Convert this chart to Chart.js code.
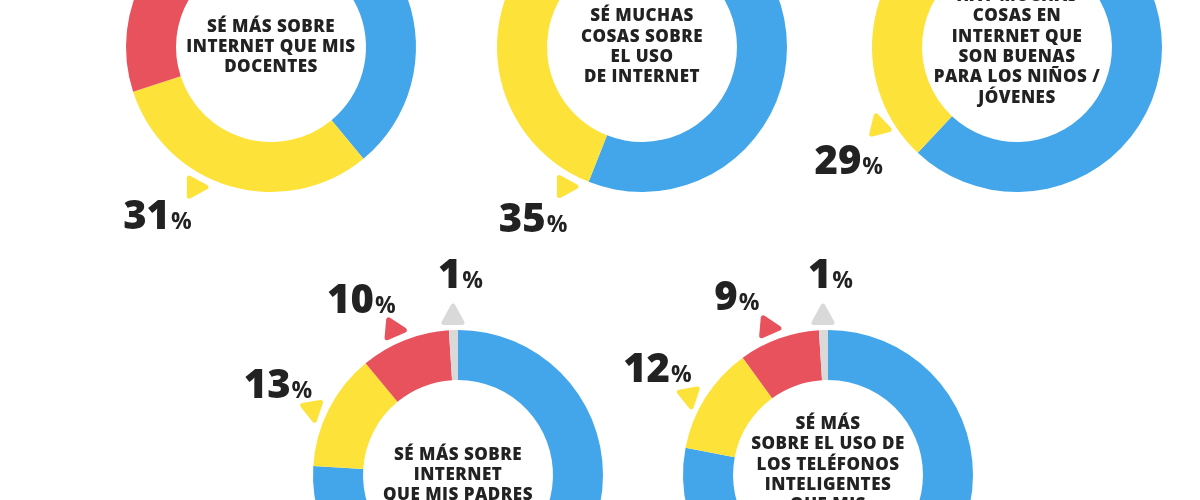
<!DOCTYPE html>
<html lang="es">
<head>
<meta charset="utf-8">
<title>Donas internet</title>
<script src="https://cdn.jsdelivr.net/npm/chart.js@4.4.1/dist/chart.umd.min.js"></script>
<style>
    html, body { margin: 0; padding: 0; background: #fff; }
    #lienzo { position: relative; width: 1200px; height: 500px; overflow: hidden; }
    #lienzo canvas { position: absolute; }
</style>
</head>
<body>
<div id="lienzo"></div>
<script>
// textos del centro de cada dona
const preguntas = [
    ['SÉ MÁS SOBRE', 'INTERNET QUE MIS', 'DOCENTES'],
    ['SÉ MUCHAS', 'COSAS SOBRE', 'EL USO', 'DE INTERNET'],
    ['HAY MUCHAS', 'COSAS EN', 'INTERNET QUE', 'SON BUENAS', 'PARA LOS NIÑOS /', 'JÓVENES'],
    ['SÉ MÁS SOBRE', 'INTERNET', 'QUE MIS PADRES'],
    ['SÉ MÁS', 'SOBRE EL USO DE', 'LOS TELÉFONOS', 'INTELIGENTES', 'QUE MIS', 'PADRES']
];
// porcentajes por segmento (orden horario desde arriba)
const serieAzul = [39, 56, 62, 76, 78];
const serieAmarilla = [31, 35, 29, 13, 12];
const serieRoja = [27, 7, 7, 10, 9];
const serieGris = [3, 2, 2, 1, 1];

const colores = ['#43a6ea', '#fde23a', '#e8525c', '#d9d9d9'];
const TAM = 520;
const RADIO = 145;
const FUENTE = '"Open Sans"';

// ubicación de cada dona y de sus etiquetas (desfase en grados respecto al centro del arco)
const etiquetasAbajo = [
    { i: 1, dTri: -3, dTxt: 0, giro: 170 },
    { i: 2, dTri: -2, dTxt: -7, giro: 95 },
    { i: 3, dTri: 0, dTxt: 2.5, giro: 0 }
];
const disposicion = [
    { x: 271, y: 47, etiquetas: [{ i: 1, dTri: 12, dTxt: 18, giro: 90 }] },
    { x: 642, y: 47, etiquetas: [{ i: 1, dTri: -56, dTxt: -52, giro: 90 }] },
    { x: 1017, y: 47, etiquetas: [{ i: 1, dTri: -35, dTxt: -39, giro: -15 }] },
    { x: 458, y: 475, etiquetas: etiquetasAbajo },
    { x: 828, y: 475, etiquetas: etiquetasAbajo }
];

// plugin que dibuja el texto del centro, los triángulos y los porcentajes
const pluginEtiquetas = {
    id: 'etiquetas',
    afterDraw(chart, args, opts) {
        const ctx = chart.ctx;
        const arcos = chart.getDatasetMeta(0).data;
        const valores = chart.data.datasets[0].data;
        const { x, y, outerRadius } = arcos[0].getProps(['x', 'y', 'outerRadius'], true);

        // texto central
        ctx.save();
        ctx.fillStyle = '#222';
        ctx.font = '800 17px ' + FUENTE;
        ctx.letterSpacing = '0.5px';
        ctx.textAlign = 'center';
        ctx.textBaseline = 'middle';
        const lh = 20.3;
        const y0 = y - (opts.lineas.length - 1) * lh / 2;
        opts.lineas.forEach((l, k) => ctx.fillText(l, x, y0 + k * lh));
        ctx.restore();

        opts.lista.forEach(et => {
            const arco = arcos[et.i].getProps(['startAngle', 'endAngle'], true);
            const medio = (arco.startAngle + arco.endAngle) / 2;
            const aTri = medio + et.dTri * Math.PI / 180;
            const aTxt = medio + et.dTxt * Math.PI / 180;

            // triángulo redondeado
            const tx = x + (outerRadius + 14) * Math.cos(aTri);
            const ty = y + (outerRadius + 14) * Math.sin(aTri);
            ctx.save();
            ctx.translate(tx, ty);
            ctx.rotate(et.giro * Math.PI / 180);
            ctx.beginPath();
            ctx.moveTo(0, -10);
            ctx.lineTo(-9, 6.5);
            ctx.lineTo(9, 6.5);
            ctx.closePath();
            ctx.fillStyle = colores[et.i];
            ctx.strokeStyle = colores[et.i];
            ctx.lineJoin = 'round';
            ctx.lineWidth = 5;
            ctx.fill();
            ctx.stroke();
            ctx.restore();

            // porcentaje
            const px = x + (outerRadius + 57) * Math.cos(aTxt);
            const py = y + (outerRadius + 57) * Math.sin(aTxt);
            const num = String(valores[et.i]);
            ctx.save();
            ctx.fillStyle = '#222';
            ctx.textBaseline = 'alphabetic';
            ctx.textAlign = 'left';
            ctx.font = '800 40px ' + FUENTE;
            const wNum = ctx.measureText(num).width;
            ctx.font = '700 23px ' + FUENTE;
            const wPct = ctx.measureText('%').width;
            const inicio = px - (wNum + wPct + 1) / 2;
            ctx.font = '800 40px ' + FUENTE;
            ctx.fillText(num, inicio, py + 15);
            ctx.font = '700 23px ' + FUENTE;
            ctx.fillText('%', inicio + wNum + 1, py + 15);
            ctx.restore();
        });
    }
};

const lienzo = document.getElementById('lienzo');
disposicion.forEach((d, n) => {
    const canvas = document.createElement('canvas');
    canvas.width = TAM;
    canvas.height = TAM;
    canvas.style.left = (d.x - TAM / 2) + 'px';
    canvas.style.top = (d.y - TAM / 2) + 'px';
    lienzo.appendChild(canvas);

    new Chart(canvas, {
        type: 'doughnut',
        data: {
            labels: ['azul', 'amarillo', 'rojo', 'gris'],
            datasets: [{
                data: [serieAzul[n], serieAmarilla[n], serieRoja[n], serieGris[n]],
                backgroundColor: colores,
                borderWidth: 0
            }]
        },
        options: {
            responsive: false,
            animation: false,
            events: [],
            cutout: '65.5%',
            layout: { padding: TAM / 2 - RADIO },
            plugins: {
                legend: { display: false },
                tooltip: { enabled: false },
                etiquetas: { lineas: preguntas[n], lista: d.etiquetas }
            }
        },
        plugins: [pluginEtiquetas]
    });
});
</script>
</body>
</html>
